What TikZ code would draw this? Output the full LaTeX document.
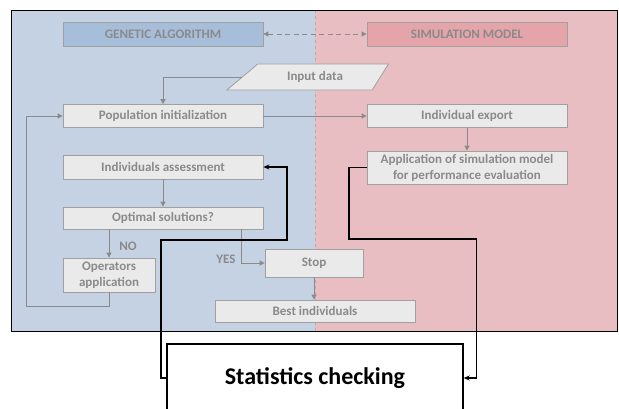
\documentclass[tikz,border=0pt]{standalone}
\usepackage{fontspec}
\setmainfont{Carlito}
\usetikzlibrary{arrows.meta,shapes.geometric,calc}
\definecolor{gaBg}{RGB}{196,210,227}
\definecolor{smBg}{RGB}{232,190,194}
\definecolor{gaHead}{RGB}{166,190,217}
\definecolor{smHead}{RGB}{228,164,170}
\definecolor{boxFill}{RGB}{234,234,234}
\definecolor{boxLine}{RGB}{160,160,160}
\definecolor{txtGray}{RGB}{138,138,138}
\begin{document}
\begin{tikzpicture}[
	x=1pt,
	y=-1pt,
	font=\bfseries\fontsize{13}{16}\selectfont,
	stepbox/.style={draw=boxLine, fill=boxFill, text=txtGray, line width=0.8pt,
		minimum width=200pt, minimum height=23pt, inner sep=1pt, align=center},
	headbox/.style={stepbox, minimum height=24pt},
	flow/.style={draw=txtGray, line width=0.9pt, -{Triangle[length=5pt,width=5pt]}},
	check/.style={draw=black, line width=1.4pt, -{Stealth[length=6pt,width=5pt]}}
	]
	\useasboundingbox (0,0) rectangle (619,408);

	% --- background: two halves ---
	\fill[gaBg] (11,10) rectangle (315,331);
	\fill[smBg] (315,10) rectangle (617,331);
	\draw[boxLine!60!smBg, dashed, line width=0.8pt] (315,10) -- (315,331);
	\draw[black, line width=0.9pt] (11,10) rectangle (617,331);

	% --- headers ---
	\node[headbox, fill=gaHead] (ga) at (163,34) {GENETIC ALGORITHM};
	\node[headbox, fill=smHead] (sm) at (467,34) {SIMULATION MODEL};
	\draw[flow, dash pattern=on 5pt off 3.5pt, {Triangle[length=5pt,width=5pt]}-{Triangle[length=5pt,width=5pt]}]
		(ga.east) -- (sm.west);

	% --- genetic algorithm side ---
	\node[trapezium, trapezium left angle=40, trapezium right angle=122,
		draw=boxLine, fill=boxFill, text=txtGray, line width=0.8pt,
		minimum width=130pt, minimum height=26pt, inner sep=1pt] (input) at (315,77) {Input data};
	\node[stepbox] (pop) at (163,116) {Population initialization};
	\node[stepbox, minimum height=24pt] (assess) at (163,167) {Individuals assessment};
	\node[stepbox, minimum height=22pt] (opt) at (163,218) {Optimal solutions?};
	\node[stepbox, minimum width=92pt, minimum height=34pt] (ops) at (109,275) {Operators\\application};
	\node[stepbox, minimum width=98pt, minimum height=28pt] (stop) at (314,263) {Stop};
	\node[stepbox, minimum height=22pt] (best) at (315,311) {Best individuals};
	\node[text=txtGray] (no) at (128,246) {NO};
	\node[text=txtGray] (yes) at (226,259) {YES};

	% --- simulation model side ---
	\node[stepbox] (export) at (467,116) {Individual export};
	\node[stepbox, minimum height=33pt] (app) at (467,167.5) {Application of simulation model\\for performance evaluation};

	% --- statistics box (runs below the page) ---
	\node[draw=black, fill=white, line width=1.4pt, minimum width=296pt, minimum height=68pt,
		font=\bfseries\fontsize{24}{28}\selectfont] (stat) at (315,378) {Statistics checking};

	% --- gray flow ---
	\coordinate (loop) at (26,306);
	\draw[flow] (input.west) -| (pop.north);
	\draw[flow] (pop.east) -- (export.west);
	\draw[flow] (export.south) -- (app.north);
	\draw[flow] (assess.south) -- (opt.north);
	\draw[flow] (opt.south -| ops.north) -- (ops.north);
	\draw[flow] ($(opt.south east)+(-22,0)$) |- (stop.west);
	\draw[flow] (stop.south) -- (stop.south |- best.north);
	\draw[flow] (ops.south) |- (loop) |- (pop.west);

	% --- black statistics loop ---
	\draw[check] (stat.west) -| (161,240) -| (287,167) -- (assess.east);
	\draw[check] (app.west) -| (349,239) -| ([xshift=13pt]stat.east) -- (stat.east);
\end{tikzpicture}
\end{document}
